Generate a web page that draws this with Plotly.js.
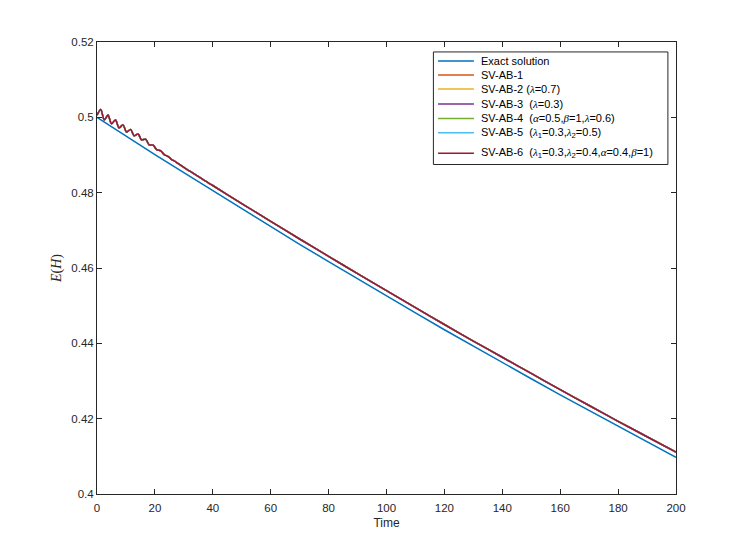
<!DOCTYPE html>
<html>
<head>
<meta charset="utf-8">
<script src="https://cdn.plot.ly/plotly-3.0.1.min.js"></script>
<style>
  body { margin: 0; background: #fff; }
  #chart { width: 747px; height: 554px; }
</style>
</head>
<body>
<div id="chart"></div>
<script>
  // time grid and energy
  var tExact = [0, 10, 20, 30, 40, 50, 60, 70, 80, 90, 100, 110, 120, 130, 140, 150, 160, 170, 180, 190, 200];
  var eExact = [0.5000, 0.4950, 0.4901, 0.4853, 0.4805, 0.4757, 0.4710, 0.4663, 0.4617, 0.4571, 0.4526,
                0.4481, 0.4436, 0.4392, 0.4349, 0.4306, 0.4263, 0.4221, 0.4179, 0.4138, 0.4097];

  // the SV-AB schemes all sit on top of each other, with a small wiggle at the start
  var tSV = [0, 1.3, 2.5, 3.8, 5.0, 6.4, 7.6, 9.0, 10.2, 11.6, 12.8, 14.2, 15.4, 16.8, 18.0, 19.4, 20.6,
             22.0, 23.2, 24.6, 25.8, 27.2, 30, 40, 50, 60, 70, 80, 90, 100, 110, 120, 130, 140, 150,
             160, 170, 180, 190, 200];
  var eSV = [0.5006, 0.5021, 0.4993, 0.5006, 0.4983, 0.4993, 0.4972, 0.4980, 0.4961, 0.4968, 0.4951,
             0.4956, 0.4940, 0.4942, 0.4927, 0.4926, 0.4914, 0.4911, 0.4901, 0.4896, 0.4888, 0.4882,
             0.4867, 0.4819, 0.4771, 0.4724, 0.4677, 0.4631, 0.4585, 0.4540, 0.4495, 0.4450, 0.4406,
             0.4363, 0.4320, 0.4277, 0.4235, 0.4193, 0.4152, 0.4111];

  var g = function (s) { return '<span style="font-family:Liberation Serif,serif"><i>' + s + '</i></span>'; };
  var names = [
    'Exact solution',
    'SV-AB-1',
    'SV-AB-2 (' + g('λ') + '=0.7)',
    'SV-AB-3  (' + g('λ') + '=0.3)',
    'SV-AB-4  (' + g('α') + '=0.5,' + g('β') + '=1,' + g('λ') + '=0.6)',
    'SV-AB-5  (' + g('λ') + '<sub>1</sub>=0.3,' + g('λ') + '<sub>2</sub>=0.5)',
    'SV-AB-6  (' + g('λ') + '<sub>1</sub>=0.3,' + g('λ') + '<sub>2</sub>=0.4,' + g('α') + '=0.4,' + g('β') + '=1)'
  ];
  var colors = ['#0072BD', '#D95319', '#EDB120', '#7E2F8E', '#77AC30', '#4DBEEE', '#A2142F'];

  var data = [];
  for (var i = 0; i < names.length; i++) {
    data.push({
      x: i == 0 ? tExact : tSV,
      y: i == 0 ? eExact : eSV,
      name: names[i],
      type: 'scatter',
      mode: 'lines',
      line: { color: colors[i], width: 1.5, shape: i == 0 ? 'linear' : 'spline', smoothing: 0.8 }
    });
  }

  // legend drawn MATLAB style (tighter rows than plotly's own legend)
  var shapes = [{
    type: 'rect', xref: 'paper', yref: 'paper',
    x0: 0.581, x1: 0.986, y0: 0.729, y1: 0.978,
    line: { color: '#262626', width: 1 }, fillcolor: '#fff', layer: 'above'
  }];
  var annotations = [];
  var rowY = [0.958, 0.927, 0.896, 0.863, 0.831, 0.799, 0.754];
  for (var j = 0; j < names.length; j++) {
    shapes.push({
      type: 'line', xref: 'paper', yref: 'paper',
      x0: 0.589, x1: 0.651, y0: rowY[j], y1: rowY[j],
      line: { color: colors[j], width: 1.5 }, layer: 'above'
    });
    annotations.push({
      xref: 'paper', yref: 'paper', x: 0.659, y: rowY[j],
      xanchor: 'left', yanchor: 'middle', showarrow: false,
      text: names[j],
      font: { family: 'Liberation Sans, Arial, sans-serif', size: 11, color: '#000' }
    });
  }

  var axisStyle = {
    showline: true,
    mirror: 'ticks',
    linecolor: '#262626',
    linewidth: 1,
    ticks: 'inside',
    ticklen: 5,
    tickcolor: '#262626',
    showgrid: false,
    zeroline: false,
    tickfont: { family: 'Liberation Sans, Arial, sans-serif', size: 11.5, color: '#262626' }
  };

  var layout = {
    width: 747,
    height: 554,
    margin: { l: 97, r: 71, t: 42, b: 60 },
    paper_bgcolor: '#fff',
    plot_bgcolor: '#fff',
    showlegend: false,
    xaxis: Object.assign({}, axisStyle, {
      range: [0, 200],
      dtick: 20,
      ticklabelstandoff: 3,
      title: { text: 'Time', standoff: 5,
               font: { family: 'Liberation Sans, Arial, sans-serif', size: 12, color: '#262626' } }
    }),
    yaxis: Object.assign({}, axisStyle, {
      range: [0.4, 0.52],
      dtick: 0.02,
      title: { text: '<i>E</i>(<i>H</i>)', standoff: 6,
               font: { family: 'Liberation Serif, serif', size: 14, color: '#262626' } }
    }),
    shapes: shapes,
    annotations: annotations
  };

  Plotly.newPlot('chart', data, layout, { displayModeBar: false, staticPlot: true });
</script>
</body>
</html>
